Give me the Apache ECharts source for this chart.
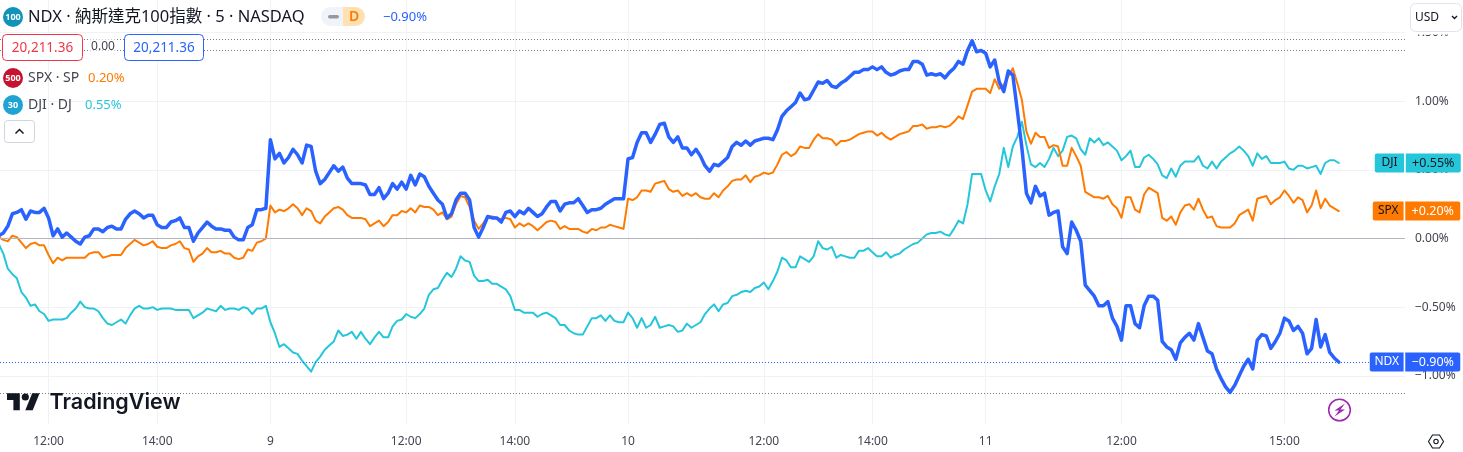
<!DOCTYPE html>
<html>
<head>
<meta charset="utf-8">
<style>html,body{margin:0;padding:0;background:#fff;overflow:hidden}#c{width:1463px;height:452px}</style>
<script src="https://cdn.jsdelivr.net/npm/echarts@6/dist/echarts.min.js"></script>
</head>
<body>
<div id="c"></div>
<script>
// Percent change per 5-minute bar
var ndxValues = [
.02,.04,.09,.18,.19,.21,.14,.20,.19,.19,
.22,.15,.02,.07,.01,.04,.01,-.02,-.04,.01,
.02,.07,.07,.05,.08,.09,.07,.07,.14,.18,
.20,.18,.15,.17,.17,.10,.08,.08,.12,.13,
.15,.08,.08,-.02,.04,.08,.12,.09,.07,.07,
.06,.06,.01,-.01,-.01,.08,.10,.21,.21,.22,
.72,.58,.62,.55,.59,.65,.61,.55,.68,.67,
.49,.40,.43,.48,.53,.49,.52,.44,.40,.40,
.40,.39,.32,.32,.37,.29,.33,.40,.36,.41,
.36,.46,.39,.47,.45,.38,.33,.28,.25,.15,
.18,.28,.33,.33,.28,.08,.01,.08,.16,.15,
.15,.12,.19,.20,.16,.20,.18,.22,.19,.16,
.18,.23,.27,.27,.20,.25,.26,.26,.29,.24,
.19,.21,.21,.22,.25,.27,.29,.29,.29,.58,
.59,.70,.77,.77,.70,.76,.83,.84,.74,.70,
.74,.66,.66,.61,.65,.60,.53,.49,.54,.53,
.56,.59,.67,.70,.68,.71,.68,.71,.72,.73,
.73,.72,.79,.89,.93,.96,.99,1.06,1.01,1.02,
1.08,1.14,1.13,1.15,1.11,1.10,1.13,1.15,1.18,1.21,
1.21,1.23,1.23,1.25,1.23,1.25,1.21,1.19,1.20,1.22,
1.23,1.23,1.29,1.29,1.27,1.19,1.20,1.19,1.20,1.17,
1.21,1.24,1.29,1.27,1.37,1.44,1.36,1.37,1.35,1.25,
1.30,1.14,1.07,1.22,1.19,.93,.66,.33,.26,.38,
.31,.33,.17,.19,.20,-.06,-.11,.12,.06,-.02,
-.34,-.38,-.42,-.49,-.49,-.46,-.58,-.64,-.74,-.49,
-.49,-.62,-.65,-.49,-.42,-.42,-.45,-.75,-.79,-.81,
-.88,-.76,-.72,-.69,-.74,-.62,-.72,-.82,-.84,-.95,
-1.02,-1.08,-1.12,-1.07,-1.00,-.93,-.88,-.95,-.74,-.70,
-.71,-.80,-.75,-.69,-.58,-.60,-.67,-.64,-.69,-.84,
-.80,-.59,-.79,-.70,-.83,-.87,-.90
];
var spxValues = [
.01,-.01,-.02,.02,.01,-.03,-.07,-.04,-.03,-.05,
-.05,-.12,-.18,-.14,-.16,-.14,-.14,-.14,-.14,-.14,
-.11,-.10,-.10,-.14,-.13,-.12,-.12,-.12,-.07,-.04,
-.01,-.03,-.05,-.04,-.02,-.06,-.07,-.07,-.05,-.04,
-.02,-.07,-.08,-.17,-.13,-.11,-.07,-.10,-.10,-.09,
-.11,-.11,-.14,-.15,-.14,-.08,-.09,-.03,-.02,.00,
.24,.19,.21,.20,.22,.25,.22,.17,.22,.20,
.13,.11,.16,.19,.22,.23,.21,.17,.15,.15,
.15,.14,.09,.11,.13,.09,.12,.17,.17,.20,
.19,.22,.19,.24,.23,.23,.21,.17,.19,.14,
.16,.25,.31,.30,.23,.13,.07,.11,.16,.16,
.15,.14,.15,.14,.08,.11,.09,.11,.09,.06,
.09,.12,.13,.12,.07,.09,.07,.07,.07,.05,
.04,.07,.06,.08,.08,.10,.09,.08,.07,.29,
.28,.30,.35,.35,.34,.40,.41,.42,.36,.34,
.35,.31,.33,.31,.33,.30,.29,.29,.33,.30,
.35,.38,.42,.43,.43,.46,.41,.45,.46,.48,
.47,.48,.54,.61,.63,.60,.62,.67,.66,.66,
.72,.76,.73,.73,.72,.68,.71,.71,.72,.74,
.76,.77,.78,.78,.75,.77,.74,.72,.74,.76,
.77,.78,.82,.82,.83,.80,.81,.81,.82,.81,
.82,.85,.89,.87,.97,1.07,1.09,1.09,1.09,1.06,
1.16,1.09,1.12,1.18,1.24,1.13,1.01,.78,.69,.77,
.74,.74,.66,.68,.67,.53,.53,.66,.60,.53,
.34,.32,.30,.30,.29,.31,.25,.22,.15,.30,
.30,.21,.19,.32,.37,.35,.33,.15,.13,.16,
.10,.19,.24,.25,.21,.29,.21,.15,.16,.09,
.08,.08,.08,.11,.17,.19,.21,.13,.29,.30,
.31,.25,.28,.30,.35,.31,.26,.30,.28,.19,
.24,.35,.22,.29,.24,.22,.20
];
var djiValues = [
-.04,-.11,-.22,-.26,-.29,-.39,-.43,-.49,-.48,-.53,
-.55,-.60,-.59,-.59,-.59,-.58,-.54,-.51,-.46,-.50,
-.51,-.51,-.53,-.58,-.62,-.63,-.61,-.59,-.62,-.56,
-.51,-.49,-.51,-.51,-.50,-.52,-.51,-.51,-.51,-.52,
-.52,-.52,-.52,-.58,-.56,-.54,-.51,-.52,-.53,-.49,
-.52,-.51,-.51,-.52,-.50,-.51,-.55,-.51,-.51,-.49,
-.61,-.69,-.79,-.77,-.80,-.83,-.84,-.89,-.93,-.97,
-.90,-.86,-.81,-.78,-.75,-.67,-.71,-.70,-.68,-.73,
-.68,-.73,-.77,-.72,-.68,-.72,-.72,-.64,-.60,-.59,
-.55,-.57,-.58,-.55,-.51,-.41,-.37,-.36,-.30,-.25,
-.28,-.22,-.13,-.16,-.17,-.27,-.31,-.31,-.30,-.33,
-.33,-.35,-.37,-.42,-.52,-.52,-.54,-.54,-.54,-.57,
-.55,-.54,-.56,-.58,-.63,-.63,-.67,-.69,-.70,-.70,
-.64,-.58,-.58,-.56,-.60,-.56,-.60,-.61,-.61,-.54,
-.58,-.65,-.58,-.65,-.63,-.57,-.65,-.64,-.63,-.64,
-.68,-.67,-.62,-.65,-.63,-.61,-.55,-.51,-.48,-.53,
-.48,-.47,-.42,-.41,-.39,-.38,-.39,-.36,-.35,-.32,
-.37,-.31,-.24,-.14,-.16,-.21,-.21,-.13,-.15,-.17,
-.13,-.02,-.07,-.08,-.06,-.14,-.12,-.13,-.14,-.14,
-.09,-.09,-.07,-.10,-.13,-.13,-.10,-.14,-.12,-.11,
-.08,-.06,-.04,-.03,.00,.03,.04,.04,.05,.03,
.02,.07,.13,.11,.25,.47,.47,.47,.35,.27,
.38,.47,.66,.52,.67,.74,.85,.68,.54,.52,
.55,.52,.58,.66,.60,.64,.74,.75,.73,.65,
.61,.73,.70,.73,.68,.70,.67,.64,.57,.60,
.64,.52,.52,.59,.61,.58,.54,.46,.44,.51,
.45,.53,.56,.56,.56,.60,.53,.51,.56,.51,
.56,.59,.62,.64,.67,.64,.60,.53,.62,.58,
.60,.55,.55,.55,.56,.51,.50,.53,.53,.51,
.52,.53,.47,.55,.57,.57,.55
];
var xTickBars = [11,35,60,90,114,139,169,193,218,248,284];
var xTickLabels = ['12:00','14:00','9','12:00','14:00','10','12:00','14:00','11','12:00','15:00'];
var yTicks = [-1,-0.5,0,0.5,1,1.5];
var referenceLevels = [1.4494,1.3693,-1.1289];
var lastLevel = -0.9031;
var title = 'NDX · 納斯達克100指數 · 5 · NASDAQ';

var FONT = '"Noto Sans","Noto Sans CJK TC",sans-serif';
var INK = '#131722';
function pairs(a){return a.map(function(v,i){return [i,v];});}
function txt(x,y,s,size,color,extra){
  var st = {x:x,y:y,text:s,fontSize:size,fill:color,fontFamily:FONT,verticalAlign:'middle',align:'left'};
  for (var k in extra||{}) st[k]=extra[k];
  return {type:'text',z:110,silent:true,style:st};
}
function badge(x,y,w,h,color,r){
  return {type:'rect',z:105,silent:true,shape:{x:x,y:y,width:w,height:h,r:r},style:{fill:'#fff',stroke:color,lineWidth:1}};
}
function dot(cx,cy,r,color,s,size){
  return [{type:'circle',z:105,silent:true,shape:{cx:cx,cy:cy,r:r},style:{fill:color}},
          txt(cx,cy,s,size,'#fff',{align:'center',fontWeight:700})];
}
function tag(sym,val,bg,symColor,valColor,w,dist){
  return {show:true,position:'right',distance:dist,
    formatter:'{a|'+sym+'}{s| }{b|'+val+'}',
    rich:{
      a:{backgroundColor:bg,color:symColor,width:w,height:19,lineHeight:19,align:'center',fontSize:12,fontFamily:FONT,borderRadius:[2,0,0,2]},
      s:{backgroundColor:'#fff',width:1.5,height:19,lineHeight:19,fontSize:1},
      b:{backgroundColor:bg,color:valColor,width:55,height:19,lineHeight:19,align:'center',fontSize:12.5,fontFamily:FONT,borderRadius:[0,2,2,0]}
    }};
}
function hLine(y,color,type){
  return {yAxis:y,lineStyle:{color:color,type:type,width:1}};
}
var graphics = [].concat(
  dot(13,17,10,'#0f93b8','100',9),
  [txt(28,17,title,16.5,INK)],
  [{type:'rect',z:105,silent:true,shape:{x:321,y:7,width:30,height:19,r:[9.5,0,0,9.5]},style:{fill:'#f0f3fa'}},
   {type:'rect',z:105,silent:true,shape:{x:343,y:7,width:22,height:19,r:[0,9.5,9.5,0]},style:{fill:'#ffe0b2'}},
   {type:'rect',z:110,silent:true,shape:{x:328,y:15,width:11,height:3.5,r:1.7},style:{fill:'#9598a1'}},
   txt(354,17,'D',14,'#ff7a00',{align:'center',fontWeight:600})],
  [txt(383,17,'−0.90%',13,'#2962ff')],
  [badge(2.5,34.5,80,26,'#f23645',4), txt(42.5,48,'20,211.36',13.5,'#f23645',{align:'center'})],
  [{type:'rect',z:104,silent:true,shape:{x:90,y:38,width:27,height:20},style:{fill:'#fff',opacity:0.6}},
   txt(103,47,'0.00',12,'#434651',{align:'center'})],
  [badge(124.5,34.5,79,26,'#2962ff',4), txt(164,48,'20,211.36',13.5,'#2962ff',{align:'center'})],
  dot(13,78,10,'#c5132f','500',9),
  [txt(28,78,'SPX · SP',14,'#434651'), txt(88,78,'0.20%',13,'#ff7a00')],
  dot(13,105,10,'#1fa3d2','30',9),
  [txt(28,105,'DJI · DJ',14,'#434651'), txt(85,105,'0.55%',13,'#26c6da')],
  [{type:'rect',z:105,silent:true,shape:{x:4.5,y:120.5,width:30,height:22,r:3},style:{fill:'#fff',stroke:'#d1d4dc',lineWidth:1}},
   {type:'polyline',z:110,silent:true,shape:{points:[[15.5,133.5],[19.5,129.5],[23.5,133.5]]},style:{fill:null,stroke:INK,lineWidth:1.5}}],
  [{type:'rect',z:104,silent:true,shape:{x:1406,y:0,width:57,height:34.5},style:{fill:'#fff'}},
   {type:'rect',z:105,silent:true,shape:{x:1410.5,y:3.5,width:51,height:28,r:5},style:{fill:'#fff',stroke:'#e0e3eb',lineWidth:1}},
   txt(1415,18,'USD',12,INK),
   {type:'polyline',z:110,silent:true,shape:{points:[[1452,16],[1454.5,18.5],[1457,16]]},style:{fill:null,stroke:INK,lineWidth:1.4}}],
  [{type:'polygon',z:110,silent:true,shape:{points:[[7,393.3],[19.8,393.3],[19.8,410.3],[13.4,410.3],[13.4,399.9],[7,399.9]]},style:{fill:INK}},
   {type:'polygon',z:110,silent:true,shape:{points:[[25.3,410.3],[32.2,393.3],[39.6,393.3],[32.7,410.3]]},style:{fill:INK}},
   {type:'circle',z:110,silent:true,shape:{cx:25.3,cy:397,r:3.6},style:{fill:INK}},
   txt(49.5,402.5,'TradingView',21.5,INK,{fontFamily:'Inter,Roboto,sans-serif',fontWeight:600})],
  [{type:'circle',z:110,silent:true,shape:{cx:1339.5,cy:410,r:10.8},style:{fill:'#fff',stroke:'#9c27b0',lineWidth:1.5}},
   {type:'polygon',z:111,silent:true,shape:{points:[[1345,403.5],[1334.5,410.5],[1339,410.5],[1334.5,416.5],[1345,409.5],[1340.5,409.5]]},style:{fill:'#9c27b0'}}],
  [{type:'polygon',z:110,silent:true,shape:{points:[[1428.5,441.5],[1432.5,435],[1439.5,435],[1443.5,441.5],[1439.5,448],[1432.5,448]]},style:{fill:'#fff',stroke:INK,lineWidth:1.1}},
   {type:'circle',z:111,silent:true,shape:{cx:1436,cy:441.5,r:2.2},style:{fill:'#fff',stroke:INK,lineWidth:1.1}}]
);
var chart = echarts.init(document.getElementById('c'),null,{renderer:'canvas',width:1463,height:452});
chart.setOption({
  animation:false,
  backgroundColor:'#fff',
  textStyle:{fontFamily:FONT},
  grid:{left:0,right:58,top:0,height:424.5,containLabel:false},
  xAxis:{type:'value',min:0.27,max:310.63,
    axisLine:{show:false},
    axisTick:{show:false,customValues:xTickBars},
    splitLine:{show:true,lineStyle:{color:'#f1f2f5',width:1}},
    axisLabel:{customValues:xTickBars,margin:11,fontSize:12,fontFamily:FONT,color:'#434651',hideOverlap:false,
      showMinLabel:true,showMaxLabel:true,
      formatter:function(v){return xTickLabels[xTickBars.indexOf(v)];}}
  },
  yAxis:{type:'value',position:'right',min:-1.3547,max:1.7371,
    axisLine:{show:false},
    axisTick:{show:false,customValues:yTicks},
    splitLine:{show:true,lineStyle:{color:'#f1f2f5',width:1}},
    axisLabel:{customValues:yTicks,margin:10,fontSize:12,fontFamily:FONT,color:'#434651',padding:[4,0,0,0],
      formatter:function(v){return (v<0?'−':'')+Math.abs(v).toFixed(2)+'%';}}
  },
  series:[
    {name:'DJI',type:'line',data:pairs(djiValues),symbol:'none',z:3,
     lineStyle:{color:'#26c6da',width:2,join:'round',cap:'round'},
     endLabel:tag('DJI','+0.55%','#26c6da',INK,INK,29.5,36),
     markLine:{silent:true,symbol:['none','none'],label:{show:false},animation:false,
       data:[hLine(0,'#b2b5be','solid')]
         .concat(referenceLevels.map(function(v){return hLine(v,'#787b86',[1,2]);}))}},
    {name:'SPX',type:'line',data:pairs(spxValues),symbol:'none',z:4,
     lineStyle:{color:'#ff7a00',width:2,join:'round',cap:'round'},
     endLabel:tag('SPX','+0.20%','#ff7a00',INK,'#fff',31,34)},
    {name:'NDX',type:'line',data:pairs(ndxValues),symbol:'none',z:5,
     lineStyle:{color:'#2962ff',width:3.5,join:'round',cap:'round'},
     endLabel:tag('NDX','−0.90%','#2962ff','#fff','#fff',34,31),
     markLine:{silent:true,symbol:['none','none'],label:{show:false},animation:false,
       lineStyle:{color:'#2962ff',type:[1,2],width:1},
       data:[{yAxis:lastLevel,lineStyle:{color:'#2962ff',type:[1,2],width:1}}]}}
  ],
  graphic:{elements:graphics}
});
</script>
</body>
</html>
